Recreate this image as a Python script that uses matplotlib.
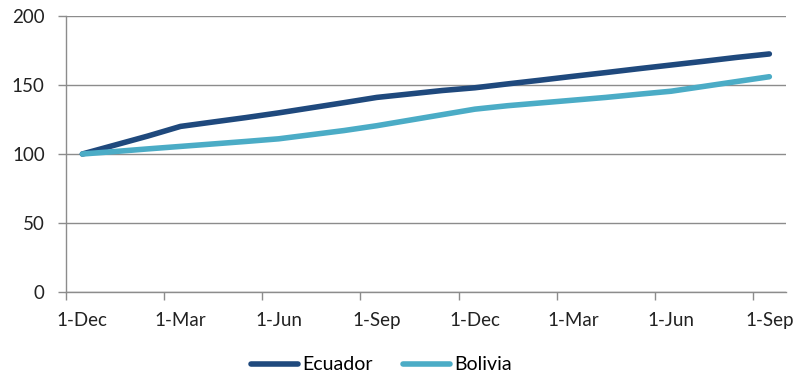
import matplotlib
matplotlib.use("Agg")
import matplotlib.pyplot as plt

months = ["1-Dec", "1-Jan", "1-Feb", "1-Mar", "1-Apr", "1-May", "1-Jun", "1-Jul", "1-Aug",
          "1-Sep", "1-Oct", "1-Nov", "1-Dec", "1-Jan", "1-Feb", "1-Mar", "1-Apr", "1-May",
          "1-Jun", "1-Jul", "1-Aug", "1-Sep"]
ecuador = [100, 106.5, 113, 120, 123.2, 126.4, 129.8, 133.5, 137.2, 141, 143.5, 146, 148,
           150.8, 153.5, 156.3, 159, 161.8, 164.5, 167.2, 170, 172.5]
bolivia = [100, 101.8, 103.7, 105.5, 107.3, 109.1, 111, 114, 117, 120.5, 124.5, 128.5, 132.5,
           135, 137, 139, 141, 143.3, 145.5, 149, 152.5, 156]
yticks = [0, 50, 100, 150, 200]

plt.rcParams['font.family'] = ['Lato', 'DejaVu Sans']
fig = plt.figure(figsize=(7.94, 3.75), dpi=100)
ax = fig.add_axes([66/794, 1-292/375, (785.7-66)/794, (292-16)/375])

x = list(range(len(months)))
c_ec = "#1f497d"
c_bo = "#4bacc6"
ax.plot(x, ecuador, color=c_ec, lw=4.0, solid_capstyle="round", solid_joinstyle="round", label="Ecuador", zorder=3)
ax.plot(x, bolivia, color=c_bo, lw=4.0, solid_capstyle="round", solid_joinstyle="round", label="Bolivia", zorder=3)

ax.set_xlim(-0.5, len(months) - 0.5)
ax.set_ylim(0, 200)
ax.set_yticks(yticks)
ax.yaxis.grid(True, color="#8c8c8c", lw=1)
ax.set_axisbelow(True)

major = list(range(0, len(months), 3))
ax.set_xticks(major)
ax.set_xticklabels([months[i] for i in major])
ax.set_xticks([i - 0.5 for i in major], minor=True)
ax.tick_params(axis="x", which="major", length=0, pad=14.5, labelsize=13.5, colors="#222222")
ax.tick_params(axis="x", which="minor", length=5.6, color="#8c8c8c", width=1)
ax.tick_params(axis="y", length=5.8, width=1, pad=9.5, labelsize=13.5, colors="#8c8c8c", labelcolor="#222222")

for s in ["top", "right"]:
    ax.spines[s].set_visible(False)
for s in ["left", "bottom"]:
    ax.spines[s].set_color("#8c8c8c")
    ax.spines[s].set_linewidth(1)

handles, labels = ax.get_legend_handles_labels()
fig.legend(handles, labels, loc="center", bbox_to_anchor=(381.5/794, 1-365/375), ncol=2,
           frameon=False, fontsize=14, handlelength=2.4, handletextpad=0.2, columnspacing=1.6)

fig.savefig("out.png", dpi=100)
